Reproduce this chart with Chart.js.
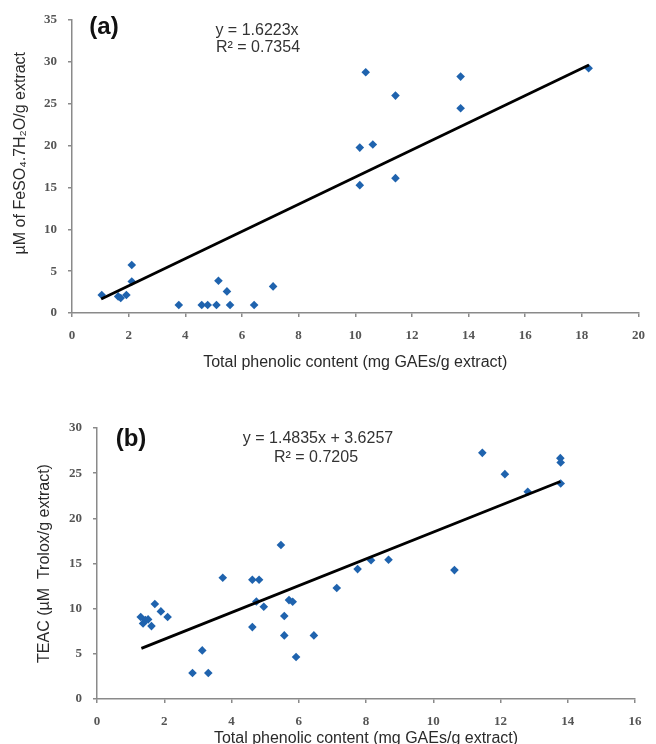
<!DOCTYPE html>
<html>
<head>
<meta charset="utf-8">
<script src="https://cdn.jsdelivr.net/npm/chart.js@4.4.1/dist/chart.umd.min.js"></script>
<style>
  html, body { margin: 0; padding: 0; background: #fff; overflow: hidden; }
  canvas { position: absolute; left: 0; }
  #chartA { top: 0; }
  #chartB { top: 372px; }
</style>
</head>
<body>
<canvas id="chartA" width="656" height="372"></canvas>
<canvas id="chartB" width="656" height="372"></canvas>
<script>
// panel (a): FRAP vs total phenolic content
const aX = [1.05, 1.63, 1.72, 1.92, 2.11, 2.11, 3.77, 4.58, 4.79, 5.10, 5.17, 5.47, 5.58, 6.43, 7.10, 10.16, 10.16, 10.37, 10.62, 11.42, 11.42, 13.72, 13.72, 18.24];
const aY = [2.15, 1.98, 1.79, 2.15, 5.73, 3.77, 0.95, 0.95, 0.95, 0.95, 3.85, 2.58, 0.95, 0.95, 3.18, 19.76, 15.27, 28.76, 20.12, 25.97, 16.11, 28.24, 24.46, 29.23];
const aTrendX = [1.03, 18.25];
const aTrendY = [1.68, 29.62];

// panel (b): TEAC vs total phenolic content
const bX = [1.30, 1.37, 1.44, 1.52, 1.62, 1.72, 1.90, 2.10, 2.84, 3.13, 3.31, 3.74, 4.62, 4.82, 4.62, 4.74, 4.96, 5.47, 5.57, 5.57, 5.71, 5.82, 5.92, 6.45, 7.13, 7.75, 8.15, 8.67, 10.63, 11.46, 12.13, 12.81, 13.78, 13.79, 13.79];
const bY = [9.07, 8.37, 8.74, 8.81, 8.07, 10.51, 9.70, 9.07, 2.88, 5.38, 2.88, 13.42, 13.20, 13.20, 7.96, 10.80, 10.21, 17.04, 9.18, 7.04, 10.95, 10.77, 4.65, 7.04, 12.28, 14.38, 15.36, 15.41, 14.27, 27.25, 24.89, 22.94, 26.66, 26.18, 23.86];
const bTrendX = [1.32, 13.78];
const bTrendY = [5.60, 24.07];

const xTitle = "Total phenolic content (mg GAEs/g extract)";
// leading spaces nudge the rotated title up a little, as in the original
const aYTitle = "      µM of FeSO₄.7H₂O/g extract";
const bYTitle = "TEAC (µM  Trolox/g extract)";
const aEq = ["y = 1.6223x", "R² = 0.7354"];
const bEq = ["y = 1.4835x + 3.6257", "R² = 0.7205"];

const pointColor = "#1f63ae";
const axisColor = "#8a8a8a";
const sans = "'Liberation Sans', Arial, sans-serif";
const serif = "'Liberation Serif', 'Times New Roman', serif";

const toPts = (xs, ys) => xs.map((x, i) => ({ x: x, y: ys[i] }));

// fixed text: panel letters and regression equations
const panelText = {
  id: "panelText",
  afterDraw(chart, args, opts) {
    const ctx = chart.ctx;
    ctx.save();
    ctx.textAlign = "center";
    ctx.textBaseline = "middle";
    opts.items.forEach(it => {
      ctx.font = it.font;
      ctx.fillStyle = it.color;
      ctx.fillText(it.text, it.x, it.y);
    });
    ctx.restore();
  }
};

function axis(min, max, step, title, size, titlePad) {
  return {
    type: "linear",
    min: min,
    max: max,
    ticks: {
      stepSize: step,
      padding: 11,
      maxRotation: 0,
      color: "#555",
      font: { family: serif, size: 13, weight: "bold" }
    },
    grid: { drawOnChartArea: false, drawTicks: true, tickLength: 4, color: axisColor, lineWidth: 1.5 },
    border: { display: true, color: axisColor, width: 1.5 },
    title: {
      display: true,
      text: title,
      color: "#2a2a2a",
      font: { family: sans, size: 16, lineHeight: 1 },
      padding: titlePad
    },
    afterFit: size
  };
}

function makeChart(id, pts, trend, cfg) {
  return new Chart(document.getElementById(id), {
    type: "scatter",
    data: {
      datasets: [
        {
          type: "line",
          data: trend,
          borderColor: "#000",
          borderWidth: 2.8,
          pointRadius: 0,
          fill: false,
          order: 0
        },
        {
          data: pts,
          pointStyle: "rectRot",
          pointRadius: 4.3,
          pointBackgroundColor: pointColor,
          pointBorderColor: pointColor,
          pointBorderWidth: 0,
          order: 1
        }
      ]
    },
    options: {
      responsive: false,
      animation: false,
      devicePixelRatio: 1,
      layout: { padding: cfg.padding },
      plugins: {
        legend: { display: false },
        tooltip: { enabled: false },
        panelText: { items: cfg.text }
      },
      scales: {
        x: axis(cfg.xMin, cfg.xMax, cfg.xStep, xTitle, s => { s.height = cfg.xH; }, { top: 0, bottom: cfg.xTitlePad }),
        y: axis(cfg.yMin, cfg.yMax, cfg.yStep, cfg.yTitle, s => { s.width = cfg.yW; }, { top: cfg.yTitlePad, bottom: 0 })
      }
    },
    plugins: [panelText]
  });
}

makeChart("chartA", toPts(aX, aY), toPts(aTrendX, aTrendY), {
  xMin: 0, xMax: 20, xStep: 2,
  yMin: 0, yMax: 35, yStep: 5,
  yTitle: aYTitle,
  padding: { top: 20, right: 7, left: 0, bottom: 0 },
  xH: 59, yW: 72,
  xTitlePad: 1, yTitlePad: 13,
  text: [
    { text: "(a)", x: 104, y: 27, font: "bold 24px " + sans, color: "#111" },
    { text: aEq[0], x: 257, y: 31, font: "16px " + sans, color: "#333" },
    { text: aEq[1], x: 258, y: 48, font: "16px " + sans, color: "#333" }
  ]
});

makeChart("chartB", toPts(bX, bY), toPts(bTrendX, bTrendY), {
  xMin: 0, xMax: 16, xStep: 2,
  yMin: 0, yMax: 30, yStep: 5,
  yTitle: bYTitle,
  padding: { top: 56, right: 21, left: 0, bottom: 0 },
  xH: 45, yW: 97,
  xTitlePad: -3, yTitlePad: 37,
  text: [
    { text: "(b)", x: 131, y: 67, font: "bold 24px " + sans, color: "#111" },
    { text: bEq[0], x: 318, y: 67, font: "16px " + sans, color: "#333" },
    { text: bEq[1], x: 316, y: 86, font: "16px " + sans, color: "#333" }
  ]
});
</script>
</body>
</html>
